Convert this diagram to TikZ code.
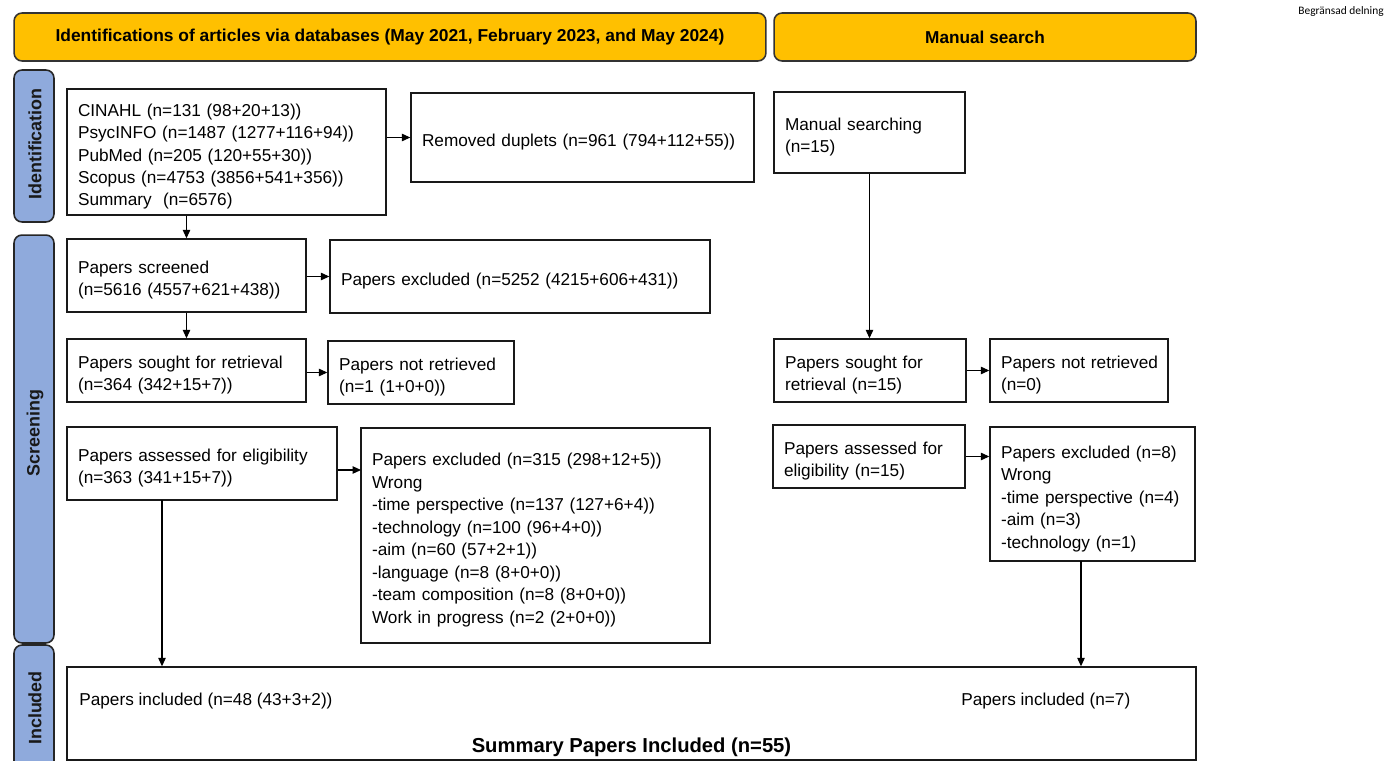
\documentclass[tikz,border=0pt]{standalone}
\usepackage{graphicx}
\usepackage{fontspec}
\setmainfont{Liberation Sans}
\newfontfamily\notefont{Carlito}
\usetikzlibrary{arrows.meta}

\definecolor{headfill}{HTML}{FFC000}
\definecolor{tabfill}{HTML}{8FAADC}

\tikzset{
  box/.style={draw=black!90, line width=0.8pt, fill=white, inner xsep=0.22cm, inner ysep=0pt,
    align=left, font=\fontsize{9.8}{12.8}\selectfont,
    execute at begin node={\hyphenpenalty=10000\relax\rule{0pt}{12.3pt}}},
  head/.style={draw=black!80, line width=0.9pt, fill=headfill, rounded corners=0.16cm,
    minimum height=0.96cm, font=\bfseries\fontsize{9.8}{12}\selectfont},
  tab/.style={draw=black!85, line width=0.9pt, fill=tabfill, rounded corners=0.16cm,
    minimum width=0.8cm},
  tablabel/.style={rotate=90, font=\bfseries\fontsize{10.2}{12}\selectfont, text=black!90},
  arr/.style={-{Triangle[length=0.17cm, width=0.15cm]}, line width=0.6pt}
}

\begin{document}
\begin{tikzpicture}[x=0.02cm, y=-0.02cm]
  \useasboundingbox (0,0) rectangle (1394,761);

  % Headers and phase tabs
  \node[head, minimum width=15.04cm] (hdb) at (390,37)
    {\raisebox{-1.5pt}{\resizebox{13.38cm}{\height}{Identifications of articles via databases (May 2021, February 2023, and May 2024)}}};
  \node[head, minimum width=8.44cm] (hman) at (985,37) {Manual search};
  \node[anchor=east, inner sep=0pt, font=\notefont\fontsize{6.5}{8}\selectfont] (note) at (1384,12) {Begränsad delning};

  \node[tab, minimum height=3.04cm] (tid) at (34,146) {};
  \node[tablabel] (tidl) at (35,144) {Identification};
  \node[tab, minimum height=8.16cm] (tscr) at (34,439) {};
  \node[tablabel] (tscrl) at (35,433) {Screening};
  \node[tab, minimum height=2.6cm] (tinc) at (34,710) {};
  \node[tablabel] (tincl) at (35,708) {Included};

  % Databases
  \node[box, text width=5.94cm, minimum height=2.52cm] (db) at (226.5,152)
    {CINAHL (n=131 (98+20+13))\\PsycINFO (n=1487 (1277+116+94))\\PubMed (n=205 (120+55+30))\\Scopus (n=4753 (3856+541+356))\\Summary\ \ (n=6576)};
  \node[box, text width=6.42cm, minimum height=1.78cm] (dup) at (582.5,137.5)
    {Removed duplets (n=961 (794+112+55))};
  \node[box, text width=4.34cm, minimum height=1.46cm] (scr) at (186.5,275.5)
    {Papers screened\\(n=5616 (4557+621+438))};
  \node[box, text width=7.16cm, minimum height=1.46cm] (exc1) at (520,276.5)
    {Papers excluded (n=5252 (4215+606+431))};
  \node[box, text width=4.34cm, minimum height=1.26cm] (sgt) at (186.5,370.5)
    {Papers sought for retrieval\\(n=364 (342+15+7))};
  \node[box, text width=3.28cm, minimum height=1.26cm] (nret) at (421,372.5)
    {Papers not retrieved\\(n=1 (1+0+0))};
  \node[box, text width=4.96cm, minimum height=1.46cm] (ass) at (202,463.5)
    {Papers assessed for eligibility\\(n=363 (341+15+7))};
  \node[box, text width=6.54cm, minimum height=4.3cm] (exc2) at (535.5,535.5)
    {Papers excluded (n=315 (298+12+5))\\Wrong\\-time perspective (n=137 (127+6+4))\\-technology (n=100 (96+4+0))\\-aim (n=60 (57+2+1))\\-language (n=8 (8+0+0))\\-team composition (n=8 (8+0+0))\\Work in progress (n=2 (2+0+0))};

  % Manual search
  \node[box, text width=3.38cm, minimum height=1.62cm] (ms) at (869.5,132.5)
    {Manual searching\\(n=15)};
  \node[box, text width=3.4cm, minimum height=1.26cm] (msgt) at (870,370.5)
    {Papers sought for\\retrieval (n=15)};
  \node[box, text width=3.12cm, minimum height=1.26cm] (mnret) at (1079,370.5)
    {\mbox{Papers not retrieved}\\(n=0)};
  \node[box, text width=3.4cm, minimum height=1.26cm] (mass) at (869,456.5)
    {Papers assessed for\\eligibility (n=15)};
  \node[box, text width=3.66cm, minimum height=2.68cm] (mexc) at (1092.5,494)
    {Papers excluded (n=8)\\Wrong\\-time perspective (n=4)\\-aim (n=3)\\-technology (n=1)};

  % Included
  \node[box, minimum width=22.58cm, minimum height=1.86cm] (inc) at (631.5,713.5) {};
  \node[anchor=west, inner sep=0pt, font=\fontsize{9.8}{12}\selectfont] (incdb) at (79,701)
    {Papers included (n=48 (43+3+2))};
  \node[anchor=west, inner sep=0pt, font=\fontsize{9.8}{12}\selectfont] (incman) at (961,701)
    {Papers included (n=7)};
  \node[inner sep=0pt, font=\bfseries\fontsize{11.5}{13}\selectfont] (incsum) at (631.5,747)
    {Summary Papers Included (n=55)};

  % Coordinates
  \coordinate (exc2in) at (361,470);
  \coordinate (assdown) at (162,500);
  \coordinate (mexcdown) at (1081,561);

  % Drawing
  \draw[arr] (db.east |- dup.west) -- (dup.west);
  \draw[arr] (db.south -| scr.north) -- (scr.north);
  \draw[arr] (scr.east |- exc1.west) -- (exc1.west);
  \draw[arr] (scr) -- (sgt);
  \draw[arr] (sgt.east |- nret.west) -- (nret.west);
  \draw[arr] (ass.east |- exc2in) -- (exc2in);
  \draw[arr] (assdown) -- (assdown |- inc.north);
  \draw[arr] (ms.south) -- (ms.south |- msgt.north);
  \draw[arr] (msgt) -- (mnret);
  \draw[arr] (mass.east) -- (mass.east -| mexc.west);
  \draw[arr] (mexcdown) -- (mexcdown |- inc.north);
\end{tikzpicture}
\end{document}
